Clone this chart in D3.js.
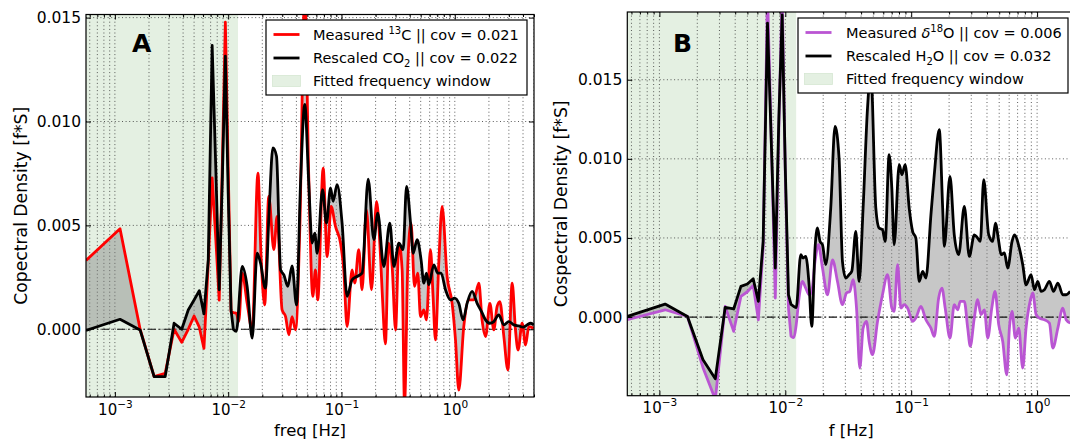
<!DOCTYPE html>
<html>
<head>
<meta charset="utf-8">
<script src="https://cdn.jsdelivr.net/npm/d3@7"></script>
<style>
  body { margin: 0; background: #fff; overflow: hidden; }
  svg text { font-family: "DejaVu Sans", "Liberation Sans", sans-serif; fill: #000; }
</style>
</head>
<body>
<svg width="1070" height="443"></svg>
<script>
// ---- data: [frequency Hz, cospectral density f*S] ----
const measuredC13 = [
  [0.000556,0.00331],[0.00111,0.00484],[0.00167,0.0],[0.00222,-0.00228],[0.00278,-0.00212],
  [0.00333,0.0],[0.00389,-0.00063],[0.00444,0.0],[0.005,0.00064],[0.00556,0.0001],
  [0.00611,-0.00092],[0.00667,0.0032],[0.00722,0.00728],[0.00778,0.0043],[0.00833,0.0014],
  [0.00889,0.0081],[0.00944,0.01478],[0.01,0.0078],[0.0106,0.00085],[0.0111,0.0008],
  [0.0118,0.00077],[0.0124,0.00037],[0.0133,0.0027],[0.0147,0.00125],[0.0163,-0.00003],
  [0.0183,0.00752],[0.0195,0.0035],[0.0210,0.00117],[0.0228,0.0064],[0.0253,0.00383],
  [0.0270,0.00543],[0.0299,0.00093],[0.0321,0.00061],[0.0343,-0.00027],[0.0366,0.00061],
  [0.0393,-0.00003],[0.0429,0.00495],[0.0474,0.0162],[0.0514,0.00736],[0.0558,0.00158],
  [0.0589,0.00286],[0.0617,0.00141],[0.0689,0.00776],[0.0747,0.0035],[0.0810,0.00591],
  [0.0885,0.00495],[0.098,0.00415],[0.1047,0.00286],[0.112,0.00013],[0.124,0.00286],
  [0.131,0.00222],[0.142,0.00383],[0.152,0.0019],[0.166,0.00575],[0.184,0.0019],
  [0.204,0.00616],[0.221,0.0035],[0.230,0.0015],[0.244,-0.0007],[0.261,0.00415],
  [0.280,0.00302],[0.300,-0.00003],[0.321,0.00415],[0.343,0.00286],[0.360,-0.0036],
  [0.385,0.00318],[0.411,0.00511],[0.441,0.00206],[0.471,0.0027],[0.498,0.00061],
  [0.533,0.00093],[0.562,0.00045],[0.610,0.00383],[0.643,0.00158],[0.675,-0.00051],
  [0.722,0.00318],[0.773,0.00591],[0.855,0.00254],[0.947,0.00125],[1.014,-0.00051],
  [1.084,-0.00293],[1.20,0.00013],[1.33,0.00141],[1.47,0.00141],[1.63,0.00222],
  [1.74,0.00045],[1.87,-0.00035],[2.04,0.00125],[2.21,-0.00003],[2.36,0.00109],
  [2.50,0.00133],[2.71,-0.00035],[2.94,-0.00196],[3.21,0.00222],[3.43,-0.00003],
  [3.62,-0.001],[3.93,0.00029],[4.21,-0.00076],[4.50,0.00013],[4.98,0.00005]
];

const rescaledCO2 = [
  [0.000556,-0.00006],[0.00111,0.00048],[0.00167,-0.00003],[0.00222,-0.00228],[0.00278,-0.00228],
  [0.00333,0.00029],[0.00389,0.0],[0.00444,0.00093],[0.005,0.00141],[0.00556,0.00186],
  [0.00611,0.00074],[0.00667,0.00334],[0.00722,0.01366],[0.00778,0.00768],[0.00833,0.0019],
  [0.00889,0.00736],[0.00944,0.01315],[0.01,0.00656],[0.0106,0.00093],[0.0111,0.0],
  [0.0118,-0.0001],[0.0133,0.00302],[0.0147,0.00206],[0.0163,-0.00043],[0.0180,0.00366],
  [0.0193,0.00318],[0.0213,0.00198],[0.0230,0.00575],[0.0248,0.00873],[0.0267,0.00833],
  [0.0290,0.00286],[0.0310,0.00262],[0.0336,0.00206],[0.0366,0.00305],[0.0401,0.00117],
  [0.0435,0.00704],[0.0474,0.01082],[0.0514,0.00704],[0.0550,0.00415],[0.0581,0.00463],
  [0.0610,0.00366],[0.0680,0.00672],[0.0737,0.00511],[0.0800,0.0068],[0.0843,0.00616],
  [0.0915,0.00696],[0.1012,0.00511],[0.112,0.00158],[0.124,0.00238],[0.137,0.00254],
  [0.152,0.0027],[0.172,0.00723],[0.193,0.00431],[0.209,0.00559],[0.236,0.00302],
  [0.267,0.00511],[0.290,0.00302],[0.321,0.00415],[0.350,0.00383],[0.375,0.00688],
  [0.407,0.00511],[0.429,0.00366],[0.465,0.00431],[0.504,0.00334],[0.533,0.00222],
  [0.562,0.0027],[0.590,0.00214],[0.653,0.0031],[0.708,0.0027],[0.757,0.0027],
  [0.828,0.0019],[0.916,0.00141],[0.994,0.0015],[1.084,0.00125],[1.184,0.00045],
  [1.284,0.00125],[1.422,0.00182],[1.574,0.00125],[1.721,0.00085],[1.867,0.00045],
  [2.037,0.00029],[2.209,0.00037],[2.444,0.00069],[2.706,0.00021],[2.997,0.00037],
  [3.318,0.00021],[3.673,0.00016],[4.01,0.0001],[4.345,0.00021],[4.656,0.00029],[4.98,0.00021]
];

const measuredD18O = [
  [0.000556,-0.00017],[0.00111,0.00046],[0.00167,0.00004],[0.00222,-0.0032],[0.00278,-0.0052],
  [0.00333,0.00067],[0.00389,-0.0009],[0.00444,0.0013],[0.005,0.0016],[0.00556,0.002],
  [0.00611,-0.00017],[0.00667,0.0044],[0.00722,0.0205],[0.00778,0.0105],[0.00833,0.0012],
  [0.00889,0.012],[0.00944,0.0205],[0.01,0.009],[0.0106,0.00057],[0.0111,-0.0012],
  [0.0117,-0.0013],[0.0122,-0.0005],[0.01285,0.0012],[0.01368,0.00225],[0.01454,0.00183],
  [0.01545,0.00141],[0.01622,0.00162],[0.01723,0.00352],[0.01833,0.00457],[0.01974,0.0031],
  [0.02163,0.00141],[0.02371,0.00362],[0.02597,0.00225],[0.02844,0.00078],[0.03062,0.00152],
  [0.03252,0.00162],[0.03456,0.00236],[0.03679,0.00057],[0.03909,-0.00322],[0.0415,-0.0007],
  [0.04416,-0.00027],[0.04634,-0.00154],[0.04931,-0.00238],[0.05404,-0.00027],[0.05916,0.00141],
  [0.0649,0.00268],[0.07015,0.00057],[0.07322,0.00036],[0.07798,0.00331],[0.08279,0.00057],
  [0.0879,0.00078],[0.09354,0.00057],[0.1026,-0.00027],[0.1089,-0.00006],[0.1194,0.00067],
  [0.1309,-0.00017],[0.1435,-0.0007],[0.1525,-0.00122],[0.1652,0.0012],[0.1754,0.00183],
  [0.1862,0.00057],[0.2033,-0.00133],[0.2198,0.00078],[0.2339,0.00046],[0.2454,0.00099],
  [0.2642,0.00099],[0.2811,-0.0007],[0.2946,-0.00185],[0.317,-0.00006],[0.3373,0.0011],
  [0.3584,0.00015],[0.3811,0.00046],[0.4055,-0.00133],[0.4365,0.00057],[0.4634,0.00162],
  [0.4957,-0.00048],[0.5334,-0.00154],[0.5741,-0.00365],[0.6025,-0.0007],[0.6324,0.00036],
  [0.6718,-0.00133],[0.7149,-0.0007],[0.7691,-0.00322],[0.817,-0.0007],[0.8796,0.00099],
  [0.9246,0.00152],[0.9818,0.00015],[1.043,-0.00006],[1.143,-0.00017],[1.253,-0.00038],
  [1.333,-0.00196],[1.462,-0.0007],[1.6,0.00057],[1.702,-0.00017],[1.832,-0.00038]
];

const rescaledH2O = [
  [0.000556,0.00004],[0.00111,0.00082],[0.00167,0.00004],[0.00222,-0.0027],[0.00278,-0.0039],
  [0.00333,0.00061],[0.00389,0.00051],[0.00444,0.00194],[0.005,0.00209],[0.00556,0.00242],
  [0.00611,0.00099],[0.00667,0.00478],[0.00722,0.01858],[0.00778,0.0105],[0.00833,0.0031],
  [0.00889,0.0126],[0.00944,0.0191],[0.01,0.0094],[0.0106,0.0014],[0.0111,0.0008],
  [0.0117,0.00067],[0.0122,0.0006],[0.01327,0.00394],[0.01383,0.00373],[0.01454,0.00383],
  [0.01545,0.00204],[0.01622,-0.00059],[0.01723,0.00436],[0.018,0.00563],[0.01888,0.00478],
  [0.01974,0.00457],[0.02096,0.00331],[0.02296,0.00689],[0.02483,0.01205],[0.02673,0.01005],
  [0.02844,0.00352],[0.0302,0.00247],[0.03212,0.00268],[0.03375,0.00289],[0.0363,0.00542],
  [0.03855,0.00225],[0.0415,0.00689],[0.04498,0.01321],[0.04777,0.0155],[0.05236,0.00689],
  [0.0556,0.00563],[0.05916,0.00552],[0.06209,0.00478],[0.06683,0.01026],[0.07015,0.00815],
  [0.07322,0.00457],[0.08031,0.00963],[0.08438,0.009],[0.08954,0.00963],[0.09638,0.00689],
  [0.1026,0.00542],[0.1089,0.00499],[0.1158,0.00225],[0.1233,0.00289],[0.1309,0.00247],
  [0.1435,0.00647],[0.1525,0.009],[0.1671,0.01184],[0.1778,0.00689],[0.1832,0.00447],
  [0.2033,0.00889],[0.2198,0.0052],[0.2383,0.00394],[0.2642,0.007],[0.2893,0.00383],
  [0.317,0.0052],[0.3373,0.00499],[0.354,0.00478],[0.3767,0.00868],[0.4127,0.0052],
  [0.4445,0.00478],[0.4661,0.00594],[0.4957,0.00478],[0.5176,0.00394],[0.5495,0.00405],
  [0.5845,0.0031],[0.6324,0.00478],[0.6596,0.0052],[0.7228,0.00436],[0.7691,0.00331],
  [0.817,0.00204],[0.8954,0.00268],[0.9528,0.00173],[1.012,0.00225],[1.076,0.00162],
  [1.143,0.00173],[1.253,0.00225],[1.349,0.00162],[1.462,0.00215],[1.6,0.00141],
  [1.702,0.00141],[1.832,0.00162]
];

const yTickValues = [0, 0.005, 0.010, 0.015];
const xMajorTicks = [1e-3, 1e-2, 1e-1, 1e0];
const fitWindow = [0.000556, 0.0122];

const legendA = [
  [{t: "Measured "}, {t: "13", sup: true}, {t: "C || cov = 0.021"}],
  [{t: "Rescaled CO"}, {t: "2", sub: true}, {t: " || cov = 0.022"}],
  [{t: "Fitted frequency window"}]
];
const legendB = [
  [{t: "Measured "}, {t: "δ", it: true}, {t: "18", sup: true}, {t: "O || cov = 0.006"}],
  [{t: "Rescaled H"}, {t: "2", sub: true}, {t: "O || cov = 0.032"}],
  [{t: "Fitted frequency window"}]
];

const svg = d3.select("svg");
const defs = svg.append("defs");
const lowCut = 0.0115;   // below this the spectral bins are drawn as straight segments

function seriesPath(pts, x, y) {
  const lin = d3.line().x(d => x(d[0])).y(d => y(d[1]));
  const mono = d3.line().x(d => x(d[0])).y(d => y(d[1])).curve(d3.curveMonotoneX);
  const runs = [];
  pts.forEach(d => {
    const low = d[0] <= lowCut;
    const last = runs[runs.length - 1];
    if (!last || last.low !== low) runs.push({low, pts: last ? [last.pts[last.pts.length - 1], d] : [d]});
    else last.pts.push(d);
  });
  return runs.map((r, i) => {
    const s = (r.low ? lin : mono)(r.pts);
    return i ? s.replace(/^M/, "L") : s;
  }).join("");
}

function richText(sel, parts) {
  let shift = 0;
  parts.forEach(p => {
    const ts = sel.append("tspan").text(p.t);
    const target = p.sup ? -6 : p.sub ? 3.5 : 0;
    if (target !== shift) { ts.attr("dy", target - shift); shift = target; }
    if (p.sup || p.sub) ts.attr("font-size", 10);
    if (p.it) ts.attr("font-style", "italic");
  });
}

function drawPanel(p) {
  const x = d3.scaleLog().domain([fitWindow[0], p.xMax]).range([p.left, p.right]);
  const y = d3.scaleLinear().domain(p.yDomain).range([p.bottom, p.top]);
  const g = svg.append("g");

  const clipId = "clip" + p.id;
  defs.append("clipPath").attr("id", clipId).append("rect")
    .attr("x", p.left).attr("y", p.top)
    .attr("width", p.right - p.left).attr("height", p.bottom - p.top);
  const plot = g.append("g").attr("clip-path", `url(#${clipId})`);

  // fitted frequency window
  plot.append("rect")
    .attr("x", p.left).attr("y", p.top)
    .attr("width", x(fitWindow[1]) - p.left).attr("height", p.bottom - p.top)
    .attr("fill", "#e4f0e2");

  // dotted grid, major + minor in x
  plot.selectAll(".vgrid").data(x.ticks()).join("line")
    .attr("x1", d => x(d)).attr("x2", d => x(d))
    .attr("y1", p.top).attr("y2", p.bottom)
    .attr("stroke", "#333").attr("stroke-width", 0.8).attr("stroke-dasharray", "1,2.6");
  plot.selectAll(".hgrid").data(yTickValues).join("line")
    .attr("x1", p.left).attr("x2", p.right)
    .attr("y1", d => y(d)).attr("y2", d => y(d))
    .attr("stroke", "#333").attr("stroke-width", 0.8).attr("stroke-dasharray", "1,2.6");

  const [meas, resc] = p.series;
  plot.append("path")
    .attr("d", seriesPath(meas, x, y) + seriesPath(resc.slice().reverse(), x, y).replace(/^M/, "L") + "Z")
    .attr("fill", "#808080").attr("fill-opacity", 0.44);

  plot.append("line")
    .attr("x1", p.left).attr("x2", p.right).attr("y1", y(0)).attr("y2", y(0))
    .attr("stroke", "#111").attr("stroke-width", 1.2).attr("stroke-dasharray", "8,3,1.5,3");

  plot.append("path").attr("d", seriesPath(meas, x, y))
    .attr("fill", "none").attr("stroke", p.color).attr("stroke-width", 2.8)
    .attr("stroke-linejoin", "round");
  plot.append("path").attr("d", seriesPath(resc, x, y))
    .attr("fill", "none").attr("stroke", "#000").attr("stroke-width", 2.8)
    .attr("stroke-linejoin", "round");

  // frame
  g.append("rect")
    .attr("x", p.left).attr("y", p.top)
    .attr("width", p.right - p.left).attr("height", p.bottom - p.top)
    .attr("fill", "none").attr("stroke", "#000").attr("stroke-width", 1.2);

  // axes (ticks point inward)
  const majors = xMajorTicks.filter(d => d >= x.domain()[0] && d <= x.domain()[1]);
  const minors = x.ticks().filter(d => !majors.includes(d));
  const clean = s => s.select(".domain").remove();

  const xb = g.append("g").attr("transform", `translate(0,${p.bottom})`)
    .call(d3.axisBottom(x).tickValues(majors).tickSizeInner(-5).tickSizeOuter(0).tickPadding(7))
    .call(clean).attr("font-size", 15);
  xb.selectAll("text").text("").each(function (d) {
    const t = d3.select(this);
    t.append("tspan").text("10");
    t.append("tspan").attr("dy", -7).attr("font-size", 10.5)
      .text(String(Math.round(Math.log10(d))).replace("-", "\u2212"));
  });
  g.append("g").attr("transform", `translate(0,${p.bottom})`)
    .call(d3.axisBottom(x).tickValues(minors).tickSizeInner(-2.5).tickSizeOuter(0).tickFormat(""))
    .call(clean);
  g.append("g").attr("transform", `translate(0,${p.top})`)
    .call(d3.axisTop(x).tickValues(majors).tickSizeInner(-5).tickSizeOuter(0).tickFormat(""))
    .call(clean);
  g.append("g").attr("transform", `translate(0,${p.top})`)
    .call(d3.axisTop(x).tickValues(minors).tickSizeInner(-2.5).tickSizeOuter(0).tickFormat(""))
    .call(clean);
  g.append("g").attr("transform", `translate(${p.left},0)`)
    .call(d3.axisLeft(y).tickValues(yTickValues).tickSizeInner(-5).tickSizeOuter(0)
      .tickPadding(5).tickFormat(d3.format(".3f")))
    .call(clean).attr("font-size", 15.5);
  g.append("g").attr("transform", `translate(${p.right},0)`)
    .call(d3.axisRight(y).tickValues(yTickValues).tickSizeInner(-5).tickSizeOuter(0).tickFormat(""))
    .call(clean);

  // titles
  g.append("text").attr("x", (p.left + p.right) / 2).attr("y", 436)
    .attr("text-anchor", "middle").attr("font-size", 16.5).text(p.xlabel);
  g.append("text")
    .attr("transform", `translate(${p.ylabelX},${(p.top + p.bottom) / 2}) rotate(-90)`)
    .attr("text-anchor", "middle").attr("font-size", 17.2).text(p.ylabel);
  g.append("text").attr("x", p.tagX).attr("y", p.tagY)
    .attr("font-size", 25).attr("font-weight", "bold").text(p.id);

  // legend
  const L = p.legend;
  const lg = g.append("g");
  lg.append("rect").attr("x", L.x0).attr("y", L.y0)
    .attr("width", L.x1 - L.x0).attr("height", L.y1 - L.y0)
    .attr("fill", "#fff").attr("stroke", "#000").attr("stroke-width", 1.2);
  const rows = lg.selectAll(".row").data(p.labels).join("g")
    .attr("transform", (d, i) => `translate(0,${L.rowY[i]})`);
  rows.each(function (d, i) {
    const r = d3.select(this);
    if (i < 2) {
      r.append("line").attr("x1", L.hx0 + 1).attr("x2", L.hx1 - 1).attr("y1", -5).attr("y2", -5)
        .attr("stroke", i === 0 ? p.color : "#000").attr("stroke-width", 2.8);
    } else {
      r.append("rect").attr("x", L.hx0).attr("y", -10.5).attr("width", L.hx1 - L.hx0).attr("height", 11)
        .attr("fill", "#e4f0e2").attr("stroke", "#d5e6d3").attr("stroke-width", 0.8);
    }
    richText(r.append("text").attr("x", L.tx).attr("font-size", 14.5), d);
  });
}

drawPanel({
  id: "A", series: [measuredC13, rescaledCO2], color: "#ff0000",
  xMax: 5, yDomain: [-0.00326, 0.01515],
  left: 86, right: 534, top: 14.5, bottom: 397,
  xlabel: "freq [Hz]", ylabel: "Copectral Density [f*S]", ylabelX: 27,
  tagX: 132, tagY: 52,
  labels: legendA,
  legend: {x0: 266, x1: 527, y0: 20, y1: 95, hx0: 272.5, hx1: 300.5, tx: 313, rowY: [39.5, 63, 86]}
});

drawPanel({
  id: "B", series: [measuredD18O, rescaledH2O], color: "#ba55d3",
  xMax: 2, yDomain: [-0.00497, 0.01928],
  left: 627.3, right: 1075, top: 12, bottom: 395.7,
  xlabel: "f [Hz]", ylabel: "Cospectral Density [f*S]", ylabelX: 567,
  tagX: 673, tagY: 51.5,
  labels: legendB,
  legend: {x0: 798, x1: 1068, y0: 18, y1: 93, hx0: 804.5, hx1: 832.5, tx: 846, rowY: [37.5, 61, 84]}
});
</script>
</body>
</html>
